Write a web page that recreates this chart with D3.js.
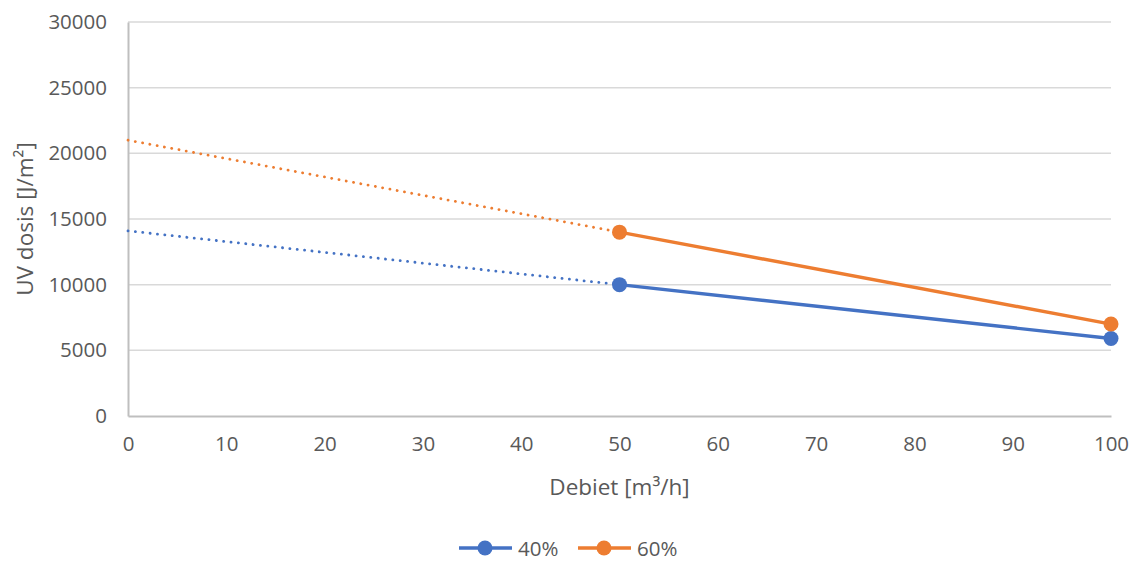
<!DOCTYPE html>
<html>
<head>
<meta charset="utf-8">
<script src="https://cdn.jsdelivr.net/npm/d3@7"></script>
<style>
  html, body { margin: 0; padding: 0; background: #fff; }
  svg { display: block; font-family: "Open Sans", "Liberation Sans", sans-serif; }
</style>
</head>
<body>
<svg id="chart" width="1132" height="563"></svg>
<script>
// Flow rate (m³/h) and UV dose (J/m²) per transmittance series
const debiet = [50, 100];
const series40 = [10000, 5900];
const series60 = [14000, 7000];
const seriesNames = ["40%", "60%"];
const xTicks = [0, 10, 20, 30, 40, 50, 60, 70, 80, 90, 100];
const yTicks = [0, 5000, 10000, 15000, 20000, 25000, 30000];

const colors = ["#4472C4", "#ED7D31"];
const seriesValues = [series40, series60];
const tickFont = 20.5;
const titleFont = 22.5;

const svg = d3.select("#chart");
const margin = { left: 128, right: 1111, top: 22, bottom: 416 };

const x = d3.scaleLinear().domain([0, 100]).range([margin.left, margin.right]);
const y = d3.scaleLinear().domain([0, 30000]).range([margin.bottom, margin.top]);

// Horizontal gridlines
svg.append("g")
  .selectAll("line")
  .data(yTicks.filter(d => d > 0))
  .join("line")
  .attr("x1", margin.left).attr("x2", margin.right)
  .attr("y1", d => y(d)).attr("y2", d => y(d))
  .attr("stroke", "#d9d9d9").attr("stroke-width", 1.5);

// Y axis
const yAxis = svg.append("g")
  .attr("transform", `translate(${margin.left},0)`)
  .call(d3.axisLeft(y).tickValues(yTicks).tickSize(0).tickPadding(21).tickFormat(d3.format("d")));
yAxis.select(".domain").attr("stroke", "#bfbfbf").attr("stroke-width", 2);
yAxis.selectAll("text").attr("fill", "#595959").attr("font-size", tickFont)
  .attr("font-family", "'Open Sans', sans-serif");

// X axis
const xAxis = svg.append("g")
  .attr("transform", `translate(0,${margin.bottom})`)
  .call(d3.axisBottom(x).tickValues(xTicks).tickSize(0).tickPadding(20).tickFormat(d3.format("d")));
xAxis.select(".domain").attr("stroke", "#bfbfbf").attr("stroke-width", 2);
xAxis.selectAll("text").attr("fill", "#595959").attr("font-size", tickFont)
  .attr("font-family", "'Open Sans', sans-serif");

// Axis titles
svg.append("text")
  .attr("x", (margin.left + margin.right) / 2).attr("y", 495)
  .attr("text-anchor", "middle").attr("fill", "#595959").attr("font-size", titleFont)
  .text("Debiet [m³/h]");

svg.append("text")
  .attr("transform", `translate(33,${(margin.top + margin.bottom) / 2}) rotate(-90)`)
  .attr("text-anchor", "middle").attr("fill", "#595959").attr("font-size", titleFont)
  .text("UV dosis [J/m²]");

const line = d3.line().x(d => x(d[0])).y(d => y(d[1]));

seriesValues.forEach((vals, i) => {
  const pts = debiet.map((d, j) => [d, vals[j]]);
  // Linear trendline extended back to zero flow
  const slope = (vals[1] - vals[0]) / (debiet[1] - debiet[0]);
  const intercept = vals[0] - slope * debiet[0];
  svg.append("path")
    .datum([[0, intercept], [debiet[0], vals[0]]])
    .attr("d", line)
    .attr("fill", "none")
    .attr("stroke", colors[i])
    .attr("stroke-width", 2.8)
    .attr("stroke-linecap", "round")
    .attr("stroke-dasharray", "0.1 7.3");

  svg.append("path")
    .datum(pts)
    .attr("d", line)
    .attr("fill", "none")
    .attr("stroke", colors[i])
    .attr("stroke-width", 3.4)
    .attr("stroke-linejoin", "round");

  svg.append("g")
    .selectAll("circle")
    .data(pts)
    .join("circle")
    .attr("cx", d => x(d[0])).attr("cy", d => y(d[1]))
    .attr("r", 7.5)
    .attr("fill", colors[i]);
});

// Legend
const legendY = 548;
const legendItems = [
  { name: seriesNames[0], color: colors[0], x0: 459 },
  { name: seriesNames[1], color: colors[1], x0: 578 }
];
const lg = svg.append("g");
legendItems.forEach(item => {
  lg.append("line")
    .attr("x1", item.x0).attr("x2", item.x0 + 53)
    .attr("y1", legendY).attr("y2", legendY)
    .attr("stroke", item.color).attr("stroke-width", 3.4);
  lg.append("circle")
    .attr("cx", item.x0 + 26).attr("cy", legendY).attr("r", 7.5)
    .attr("fill", item.color);
  lg.append("text")
    .attr("x", item.x0 + 59).attr("y", legendY)
    .attr("dominant-baseline", "central")
    .attr("fill", "#595959").attr("font-size", tickFont)
    .text(item.name);
});
</script>
</body>
</html>
